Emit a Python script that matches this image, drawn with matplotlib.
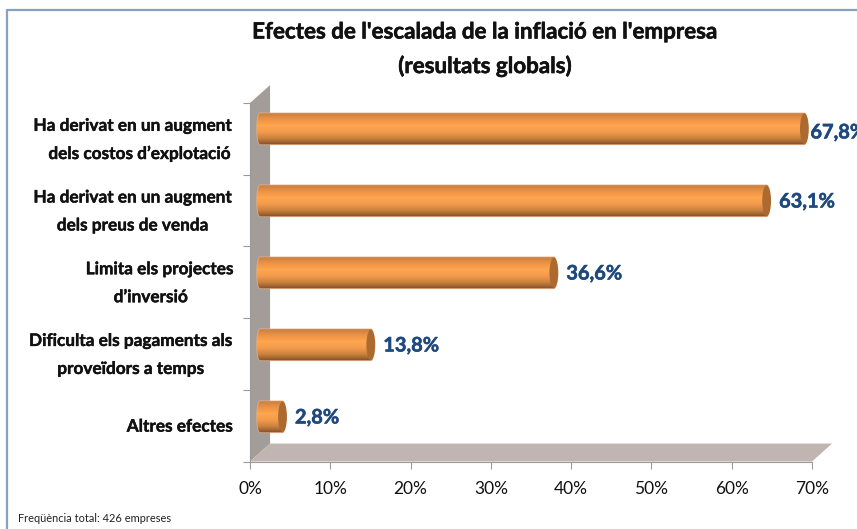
import numpy as np
import matplotlib
matplotlib.use('Agg')
import matplotlib.pyplot as plt
import matplotlib.patheffects as pe
from matplotlib.patches import Polygon, Ellipse, PathPatch
from matplotlib.path import Path
from matplotlib.lines import Line2D
from matplotlib.colors import LinearSegmentedColormap

W, H = 857, 529
categories = [["Ha derivat en un augment", "dels costos d’explotació"],
              ["Ha derivat en un augment", "dels preus de venda"],
              ["Limita els projectes", "d’inversió"],
              ["Dificulta els pagaments als", "proveïdors a temps"],
              ["Altres efectes"]]
values = [67.8, 63.1, 36.6, 13.8, 2.8]
value_labels = ["67,8%", "63,1%", "36,6%", "13,8%", "2,8%"]
xticks = [0, 10, 20, 30, 40, 50, 60, 70]
xticklabels = ["0%", "10%", "20%", "30%", "40%", "50%", "60%", "70%"]
title_lines = ["Efectes de l'escalada de la inflació en l'empresa", "(resultats globals)"]
footnote = "Freqüència total: 426 empreses"
label_centres = [[133, 140], [133, 133], [160, 151], [131, 131], [180]]

plt.rcParams['font.family'] = ['Lato', 'DejaVu Sans']
fig = plt.figure(figsize=(W/100, H/100), dpi=100)
fig.patch.set_facecolor('white')
fig.add_artist(Line2D([6.5/W, 6.5/W, 1], [0, 1-10/H, 1-10/H], transform=fig.transFigure,
                      color='#86a2bf', lw=1.6))
L, R, T, B = 250, 812, 103, 461.5
ax = fig.add_axes([L/W, 1-B/H, (R-L)/W, (B-T)/H])
ax.set_facecolor('none')
for s in ['top', 'right']:
    ax.spines[s].set_visible(False)
for s in ['left', 'bottom']:
    ax.spines[s].set_color('#9a9a9a')
ax.set_xticks(xticks); ax.set_xticklabels(xticklabels, fontsize=12.5, color='#111111')
ax.set_yticks(range(6)); ax.set_yticklabels([])
ax.tick_params(axis='x', length=5, color='#9a9a9a', pad=9)
ax.tick_params(axis='y', length=5, color='#9a9a9a')

dx, dy = 2.5, 0.25
ax.add_patch(Polygon([(0, 0), (dx, dy), (dx, 5+dy), (0, 5)], closed=True, fc='#a39d99', ec='none', clip_on=False, zorder=1))
ax.add_patch(Polygon([(0, 0), (dx, dy), (70+dx, dy), (70, 0)], closed=True, fc='#c0b5b0', ec='none', clip_on=False, zorder=1))

def bolder(w, c):
    return [pe.withStroke(linewidth=w, foreground=c)]

cm = LinearSegmentedColormap.from_list('cyl', ['#c77f42', '#ef9445', '#ffa64f', '#f29a4c', '#c9803d', '#7d4f28'])
grad = np.linspace(0, 1, 128).reshape(-1, 1)
off = 1.25; cap = 0.55; hh = 0.222
for i, v in enumerate(values):
    yc = 4.64 - i * 1.004
    x0, x1 = off, v + off
    clip = Path([(x0, yc-hh), (x0-cap, yc-hh), (x0-cap, yc+hh), (x0, yc+hh), (x1, yc+hh), (x1+cap, yc+hh), (x1+cap, yc-hh), (x1, yc-hh), (x0, yc-hh)],
                [Path.MOVETO, Path.CURVE4, Path.CURVE4, Path.CURVE4, Path.LINETO, Path.CURVE4, Path.CURVE4, Path.CURVE4, Path.CLOSEPOLY])
    im = ax.imshow(grad, extent=(x0-cap, x1+cap, yc-hh, yc+hh), origin='upper', aspect='auto', cmap=cm, zorder=3)
    pp = PathPatch(clip, fc='none', ec='#eeb184', lw=0.7, alpha=0.7, zorder=4, clip_on=False)
    ax.add_patch(pp)
    im.set_clip_path(pp)
    ax.add_patch(Ellipse((x1, yc), 2*cap, 2*hh*0.97, fc='#ad6a30', ec='none', zorder=5, clip_on=False))
    ax.text(v + (2.0 if i == 0 else 2.8), yc - (0.04 if i == 0 else 0) - 0.01, value_labels[i], fontsize=14.4, fontweight='bold',
            color='#1f497d', va='center', ha='left', zorder=6, clip_on=False, path_effects=bolder(0.4, '#1f497d'))
    ycat = 4.5 - i
    lines = categories[i]
    for j, line in enumerate(lines):
        px = 14 * (2*j - len(lines) + 1) + 1
        fig.text(label_centres[i][j]/W, 1-(B - ycat*(B-T)/5 + px)/H, line, fontsize=12.4, fontweight='bold',
                 color='#111111', ha='center', va='center', path_effects=bolder(0.3, '#111111'))
ax.set_xlim(0, 70); ax.set_ylim(0, 5)
for line, y in zip(title_lines, [32, 66]):
    fig.text(485/W, 1-y/H, line, fontsize=16.1, fontweight='bold', ha='center', va='center', color='#111111',
             path_effects=bolder(0.4, '#111111'))
fig.text(18/W, 1-519/H, footnote, fontsize=7.9, ha='left', va='center', color='#222222')
fig.savefig('out.png', dpi=100)
